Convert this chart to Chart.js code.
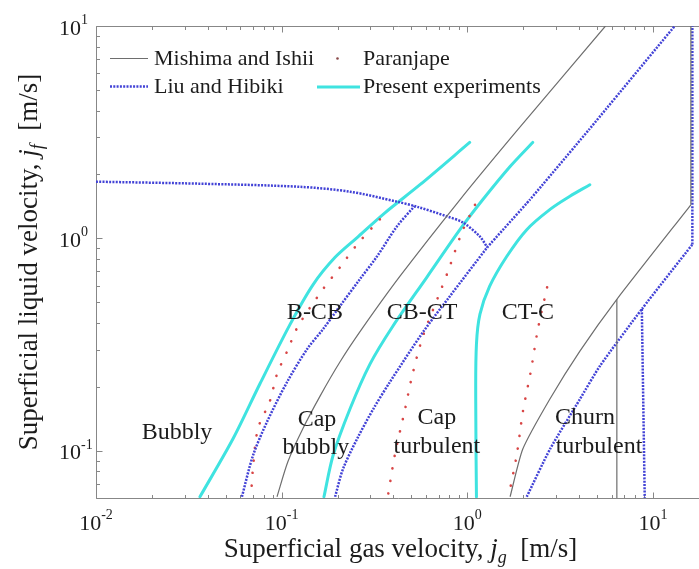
<!DOCTYPE html>
<html>
<head>
<meta charset="utf-8">
<script src="https://cdn.jsdelivr.net/npm/chart.js@4.4.1/dist/chart.umd.min.js"></script>
<style>
  html, body { margin: 0; padding: 0; background: #ffffff; }
  #wrap { width: 699px; height: 569px; }
</style>
</head>
<body>
<div id="wrap"><canvas id="c" width="699" height="569"></canvas></div>
<script>
// Flow regime transition boundaries, superficial gas velocity j_g [m/s] vs liquid velocity j_f [m/s]

// Mishima and Ishii
const mishimaSlug = [[0.0944,0.0608],[0.108,0.0888],[0.130,0.127],[0.161,0.181],[0.206,0.262],[0.270,0.374],[0.434,0.664],[0.912,1.52],[1.87,3.25],[5.55,10]];
const mishimaChurn = [[1.70,0.0608],[1.99,0.102],[2.78,0.175],[4.04,0.295],[6.39,0.517],[16.0,1.44]];
const mishimaAnnular = [[16.0,1.44],[16.0,10]];
const mishimaChurnVertical = [[6.39,0.517],[6.39,0.06]];

// Liu and Hibiki
const liuUpper = [[0.01,1.85],[0.0363,1.81],[0.1256,1.75],[0.2333,1.66],[0.418,1.49],[0.536,1.41],[0.777,1.27],[0.946,1.19],[1.17,1.02],[1.28,0.908]];
const liuDiagonal = [[1.28,0.908],[2.17,1.52],[4.52,3.25],[13.1,10]];
const liuBCB = [[0.0611,0.0608],[0.070,0.0948],[0.0834,0.137],[0.107,0.211],[0.137,0.301],[0.167,0.374],[0.206,0.480],[0.264,0.643],[0.326,0.822],[0.418,1.14],[0.52,1.42]];
const liuCBCT = [[0.194,0.0608],[0.214,0.0822],[0.255,0.114],[0.311,0.157],[0.383,0.211],[0.577,0.362],[0.806,0.535],[1.28,0.908]];
const liuChurn = [[2.09,0.0608],[2.79,0.102],[4.04,0.175],[5.18,0.251],[8.71,0.465],[16.3,0.937]];
const liuAnnular = [[16.3,0.937],[16.3,10]];
const liuBranch = [[8.71,0.465],[9.03,0.06]];

// Paranjape
const parBCB = [[0.338,1.23],[0.255,0.937],[0.206,0.731],[0.167,0.577],[0.1225,0.386],[0.107,0.294],[0.0944,0.230],[0.0865,0.172],[0.0745,0.127],[0.070,0.0822],[0.0684,0.0608]];
const parCBCT = [[1.10,1.44],[0.936,1.07],[0.787,0.700],[0.695,0.528],[0.577,0.347],[0.504,0.225],[0.462,0.157],[0.408,0.0968],[0.373,0.0608]];
const parCTC = [[2.69,0.589],[2.40,0.374],[2.20,0.238],[1.99,0.152],[1.85,0.0968],[1.68,0.0628]];

// Present experiments
const expBCB = [[0.0363,0.0608],[0.0547,0.114],[0.0764,0.207],[0.111,0.394],[0.148,0.608],[0.194,0.815],[0.255,1.01],[0.360,1.32],[0.556,1.79],[1.03,2.83]];
const expCBCT = [[0.169,0.0608],[0.189,0.0948],[0.233,0.157],[0.299,0.256],[0.397,0.386],[0.605,0.656],[0.912,1.10],[1.21,1.52],[1.70,2.18],[2.25,2.83]];
const expCTC = [[1.12,0.0608],[1.11,0.175],[1.12,0.318],[1.17,0.440],[1.32,0.596],[1.63,0.822],[2.09,1.10],[2.79,1.37],[3.57,1.58],[4.57,1.79]];

// Axis ranges and decade tick labels
const xRange = [0.01, 17.7];
const yRange = [0.06, 10];
const xDecades = [0.01, 0.1, 1, 10];
const xExponents = ['-2', '-1', '0', '1'];
const yDecades = [0.1, 1, 10];
const yExponents = ['-1', '0', '1'];

// Regime names, anchored at [j_g, j_f] of their text baseline centre
const regionLabels = [
  ['Bubbly', 0.0273, 0.114],
  ['Cap', 0.155, 0.131], ['bubbly', 0.153, 0.0968],
  ['B-CB', 0.151, 0.417], ['CB-CT', 0.570, 0.417], ['CT-C', 2.12, 0.417],
  ['Cap', 0.686, 0.134], ['turbulent', 0.686, 0.098],
  ['Churn', 4.30, 0.134], ['turbulent', 5.12, 0.098]
];

const seriesNames = ['Mishima and Ishii', 'Liu and Hibiki', 'Paranjape', 'Present experiments'];

const styles = {
  mishima: { borderColor: '#6e6e6e', borderWidth: 1.2, borderDash: [], borderCapStyle: 'butt' },
  liu: { borderColor: 'rgb(66,66,214)', borderWidth: 2.5, borderDash: [2, 1.3], borderCapStyle: 'butt' },
  par: { borderColor: '#d84646', borderWidth: 2.6, borderDash: [0.1, 12.5], borderCapStyle: 'round' },
  exp: { borderColor: '#3fe3e0', borderWidth: 3, borderDash: [], borderCapStyle: 'round' }
};

const curves = [
  ['mishima', mishimaSlug, 0.25], ['mishima', mishimaChurn, 0.2], ['mishima', mishimaAnnular, 0], ['mishima', mishimaChurnVertical, 0],
  ['liu', liuUpper, 0.3], ['liu', liuDiagonal, 0.1], ['liu', liuBCB, 0.3], ['liu', liuCBCT, 0.3],
  ['liu', liuChurn, 0.2], ['liu', liuAnnular, 0], ['liu', liuBranch, 0],
  ['par', parBCB, 0.3], ['par', parCBCT, 0.3], ['par', parCTC, 0.3],
  ['exp', expBCB, 0.3], ['exp', expCBCT, 0.3], ['exp', expCTC, 0.35]
];

const labelOf = { mishima: seriesNames[0], liu: seriesNames[1], par: seriesNames[2], exp: seriesNames[3] };

const datasets = curves.map(([key, pts, tension]) => Object.assign({
  label: labelOf[key],
  data: pts.map(([x, y]) => ({ x, y })),
  showLine: true,
  fill: false,
  pointRadius: 0,
  tension
}, styles[key]));

const SERIF = '"Liberation Serif", "Times New Roman", serif';
const INK = '#1c1c1c';

function drawRich(ctx, parts, cx, baseline) {
  let total = 0;
  parts.forEach(p => { ctx.font = p.f; p.w = ctx.measureText(p.t).width; total += p.w; });
  let x = cx - total / 2;
  parts.forEach(p => {
    ctx.font = p.f;
    ctx.fillText(p.t, x, baseline + (p.dy || 0));
    x += p.w;
  });
}

// Box, inward ticks, decade labels and axis titles
const axesPlugin = {
  id: 'axesPlugin',
  beforeDatasetsDraw(chart) {
    const { ctx, chartArea: a, scales: { x, y } } = chart;
    ctx.save();
    ctx.strokeStyle = '#878787';
    ctx.lineWidth = 1;
    const L = Math.round(a.left) + 0.5, T = Math.round(a.top) + 0.5, B = Math.round(a.bottom) + 0.5, R = a.right + 2;
    ctx.beginPath();
    ctx.moveTo(R, T); ctx.lineTo(L, T); ctx.lineTo(L, B); ctx.lineTo(R, B);
    ctx.stroke();

    ctx.beginPath();
    for (let k = -2; k <= 1; k++) {
      for (let m = 1; m <= 9; m++) {
        const v = m * Math.pow(10, k);
        if (v < xRange[0] - 1e-9 || v > xRange[1]) continue;
        const px = Math.round(x.getPixelForValue(v)) + 0.5;
        const len = m === 1 ? 6 : 3.5;
        ctx.moveTo(px, B); ctx.lineTo(px, B - len);
        ctx.moveTo(px, T); ctx.lineTo(px, T + len);
      }
    }
    for (let k = -2; k <= 1; k++) {
      for (let m = 1; m <= 9; m++) {
        const v = m * Math.pow(10, k);
        if (v < yRange[0] - 1e-9 || v > yRange[1] + 1e-9) continue;
        const py = Math.round(y.getPixelForValue(v)) + 0.5;
        const len = m === 1 ? 6 : 3.5;
        ctx.moveTo(L, py); ctx.lineTo(L + len, py);
      }
    }
    ctx.stroke();
    ctx.restore();
  },
  afterDraw(chart) {
    const { ctx, chartArea: a, scales: { x, y } } = chart;
    ctx.save();
    ctx.fillStyle = INK;
    ctx.textBaseline = 'alphabetic';
    ctx.textAlign = 'left';
    const big = '22px ' + SERIF, small = '14px ' + SERIF;

    xDecades.forEach((v, i) => {
      const px = x.getPixelForValue(v);
      ctx.font = big; const w1 = ctx.measureText('10').width;
      ctx.font = small; const w2 = ctx.measureText(xExponents[i]).width;
      const s = px - (w1 + w2) / 2;
      ctx.font = big; ctx.fillText('10', s, 530);
      ctx.font = small; ctx.fillText(xExponents[i], s + w1, 519);
    });
    yDecades.forEach((v, i) => {
      const py = y.getPixelForValue(v);
      ctx.font = big; const w1 = ctx.measureText('10').width;
      ctx.fillText('10', 59, py + 8.5);
      ctx.font = small; ctx.fillText(yExponents[i], 59 + w1, py - 2);
    });

    const tf = '27px ' + SERIF, ti = 'italic 27px ' + SERIF, ts = 'italic 18px ' + SERIF;
    drawRich(ctx, [
      { t: 'Superficial gas velocity, ', f: tf },
      { t: 'j', f: ti },
      { t: 'g', f: ts, dy: 6 },
      { t: '  [m/s]', f: tf }
    ], (a.left + a.right) / 2 + 3, 557);

    ctx.translate(37, (a.top + a.bottom) / 2);
    ctx.rotate(-Math.PI / 2);
    drawRich(ctx, [
      { t: 'Superficial liquid velocity, ', f: tf },
      { t: 'j', f: ti },
      { t: 'f', f: ts, dy: 6 },
      { t: '  [m/s]', f: tf }
    ], 0, 0);
    ctx.restore();
  }
};

// Regime names and the legend
const labelsPlugin = {
  id: 'labelsPlugin',
  afterDatasetsDraw(chart) {
    const { ctx, scales: { x, y } } = chart;
    ctx.save();
    ctx.fillStyle = INK;
    ctx.font = '24px ' + SERIF;
    ctx.textAlign = 'center';
    ctx.textBaseline = 'alphabetic';
    regionLabels.forEach(([t, vx, vy]) => {
      ctx.fillText(t, x.getPixelForValue(vx), y.getPixelForValue(vy));
    });

    ctx.textAlign = 'left';
    ctx.font = '22px ' + SERIF;
    // Mishima and Ishii
    ctx.strokeStyle = styles.mishima.borderColor; ctx.lineWidth = 1.2; ctx.setLineDash([]);
    ctx.beginPath(); ctx.moveTo(110, 58.5); ctx.lineTo(148, 58.5); ctx.stroke();
    ctx.fillText(seriesNames[0], 154, 65);
    // Liu and Hibiki
    ctx.strokeStyle = styles.liu.borderColor; ctx.lineWidth = 2.5; ctx.setLineDash(styles.liu.borderDash);
    ctx.beginPath(); ctx.moveTo(110, 86.5); ctx.lineTo(148, 86.5); ctx.stroke();
    ctx.setLineDash([]);
    ctx.fillText(seriesNames[1], 154, 93);
    // Paranjape
    ctx.fillStyle = '#8a4a4a';
    ctx.beginPath(); ctx.arc(337.5, 58.5, 1.3, 0, Math.PI * 2); ctx.fill();
    ctx.fillStyle = INK;
    ctx.fillText(seriesNames[2], 363, 65);
    // Present experiments
    ctx.strokeStyle = styles.exp.borderColor; ctx.lineWidth = 3;
    ctx.beginPath(); ctx.moveTo(317, 87); ctx.lineTo(360, 87); ctx.stroke();
    ctx.fillText(seriesNames[3], 363, 93);
    ctx.restore();
  }
};

new Chart(document.getElementById('c'), {
  type: 'scatter',
  data: { datasets },
  options: {
    responsive: false,
    animation: false,
    devicePixelRatio: 1,
    layout: { padding: { left: 96, top: 26, right: 0, bottom: 71 } },
    plugins: { legend: { display: false }, tooltip: { enabled: false } },
    scales: {
      x: { type: 'logarithmic', min: xRange[0], max: xRange[1], display: false },
      y: { type: 'logarithmic', min: yRange[0], max: yRange[1], display: false }
    }
  },
  plugins: [axesPlugin, labelsPlugin]
});
</script>
</body>
</html>
